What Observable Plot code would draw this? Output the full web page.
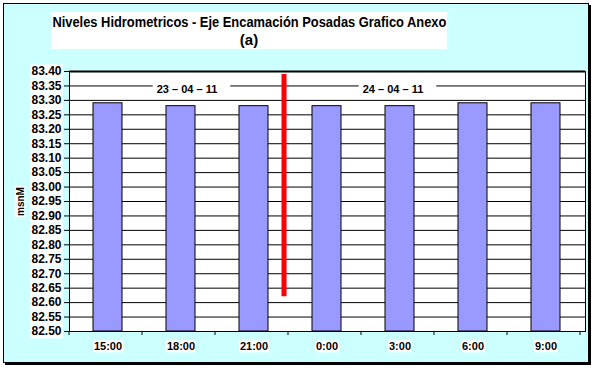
<!DOCTYPE html>
<html><head><meta charset="utf-8">
<script src="https://cdn.jsdelivr.net/npm/d3@7"></script>
<script src="https://cdn.jsdelivr.net/npm/@observablehq/plot@0.6"></script>
<style>
body{margin:0;background:#fff;}
#wrap{position:relative;width:595px;height:373px;font-family:Arial,"Liberation Sans",sans-serif;}
#box{position:absolute;left:3px;top:3px;width:586px;height:360px;box-sizing:border-box;background:#CCFFFF;border:1px solid #000;box-shadow:2px 2px 0 #000;}
#title{position:absolute;left:51px;top:12px;width:396px;height:37px;background:#fff;padding-top:1px;box-sizing:border-box;}
#title .line{display:flex;justify-content:center;height:18px;}
#title .line span{flex:none;font-weight:bold;font-size:15px;line-height:18px;white-space:nowrap;transform-origin:center;}
#chart{position:absolute;left:0;top:0;}
</style></head>
<body>
<div id="wrap">
  <div id="box"></div>
  <div id="title"><div class="line"><span id="t1">Niveles Hidrometricos - Eje Encamación Posadas Grafico Anexo</span></div><div class="line"><span id="t2">(a)</span></div></div>
  <div id="chart"></div>
</div>
<script>
const times = ["15:00","18:00","21:00","0:00","3:00","6:00","9:00"];
const levels = [83.29, 83.28, 83.28, 83.28, 83.28, 83.29, 83.29];
const yTicks = [82.50,82.55,82.60,82.65,82.70,82.75,82.80,82.85,82.90,82.95,83.00,83.05,83.10,83.15,83.20,83.25,83.30,83.35,83.40];
const dateLabels = ["23 – 04 – 11", "24 – 04 – 11"];
const dateAt = ["18:00", "3:00"];
const dateLevel = 83.338;
const breakAt = ["21:00"];
const breakFrom = [82.62];
const breakTo = [83.39];
const yLabel = ["msnM"];

// fit the title's first line to the reference's width
const t1 = document.getElementById("t1");
const s = 394 / t1.getBoundingClientRect().width;
t1.style.transform = `scaleX(${s})`;

const bars = times.map((t, i) => ({time: t, level: levels[i]}));
const dates = dateLabels.map((d, i) => ({label: d, time: dateAt[i], y: dateLevel}));
const breaks = breakAt.map((t, i) => ({time: t, y1: breakFrom[i], y2: breakTo[i]}));

const plot = Plot.plot({
  width: 595, height: 373,
  marginLeft: 69, marginRight: 10, marginTop: 71, marginBottom: 42,
  style: {background: "transparent", fontFamily: "Arial, 'Liberation Sans', sans-serif", fontSize: "11px", fontWeight: "bold", color: "#000", overflow: "visible"},
  x: {domain: times, paddingInner: 0.6, paddingOuter: 0.3, label: null},
  y: {domain: [82.5, 83.4], label: null},
  marks: [
    Plot.frame({fill: "white", stroke: "none"}),
    Plot.gridY(yTicks, {stroke: "#000", strokeOpacity: 1}),
    Plot.barY(bars, {x: "time", y1: 82.5, y2: "level", fill: "#9999FF", stroke: "#000", strokeWidth: 1}),
    Plot.ruleX(breaks, {x: "time", y1: "y1", y2: "y2", stroke: "#ff0000", strokeWidth: 5, dx: 30}),
    Plot.text(dates.slice(0,1), {x: "time", y: "y", text: "label", dx: 6, fontSize: 11, fontWeight: "bold", fill: "#000"}),
    Plot.text(dates.slice(1), {x: "time", y: "y", text: "label", dx: -7, fontSize: 11, fontWeight: "bold", fill: "#000"}),
    Plot.frame({stroke: "#000", strokeWidth: 1}),
    Plot.ruleY([83.4], {stroke: "#000", strokeWidth: 2}),
    Plot.axisY(yTicks, {tickFormat: d3.format(".2f"), tickSize: 5, tickPadding: 3, stroke: "#000", strokeOpacity: 1, fontSize: 12, fontWeight: "bold", label: null}),
    Plot.axisX({tickSize: 0, tickPadding: 11, fontSize: 11, fontWeight: "bold", label: null}),
    Plot.text(yLabel, {frameAnchor: "left", textAnchor: "middle", rotate: -90, dx: -49, fontSize: 10, fontWeight: "bold", fill: "#000"})
  ]
});
document.getElementById("chart").appendChild(plot);

const svg = d3.select(plot);
const xs = plot.scale("x");
// boundary tick marks below the frame
const gTicks = svg.append("g").attr("stroke", "#000");
for (let i = 0; i <= times.length; i++) {
  const bx = 69 + i * xs.step;
  gTicks.append("line").attr("x1", bx).attr("x2", bx).attr("y1", 331).attr("y2", 335);
}
// white backgrounds behind texts
svg.selectAll("text").each(function() {
  const t = this;
  const bb = t.getBBox();
  const isDate = dateLabels.includes(t.textContent);
  const pl = isDate ? 4 : 1, pr = isDate ? 13 : 1;
  const r = document.createElementNS("http://www.w3.org/2000/svg", "rect");
  r.setAttribute("x", bb.x - pl);
  r.setAttribute("y", bb.y);
  r.setAttribute("width", bb.width + pl + pr);
  r.setAttribute("height", bb.height);
  r.setAttribute("fill", "#fff");
  r.setAttribute("stroke", "none");
  if (t.getAttribute("transform")) r.setAttribute("transform", t.getAttribute("transform"));
  t.parentNode.insertBefore(r, t);
});
</script>
</body></html>
